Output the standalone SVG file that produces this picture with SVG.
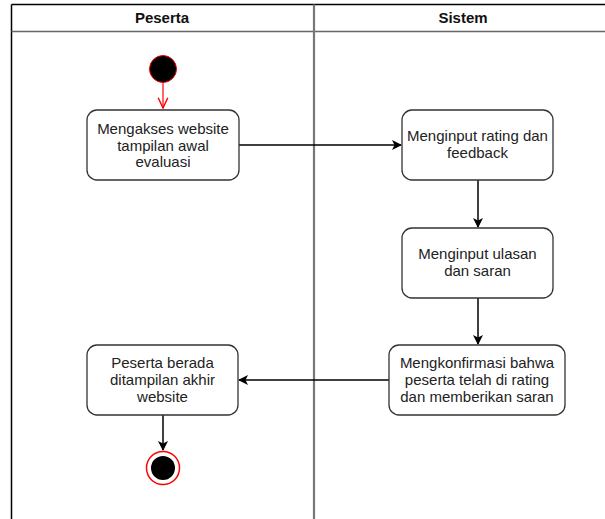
<svg xmlns="http://www.w3.org/2000/svg" width="605" height="519" viewBox="0 0 605 519">
  <defs>
    <marker id="arrow" viewBox="0 0 10 10" refX="9" refY="5" markerWidth="10" markerHeight="10" markerUnits="userSpaceOnUse" orient="auto">
      <path d="M0,0 L10,5 L0,10 L2.5,5 Z" fill="#000"/>
    </marker>
    <marker id="openRed" viewBox="0 0 10 10" refX="9.5" refY="5" markerWidth="12" markerHeight="12" markerUnits="userSpaceOnUse" orient="auto">
      <path d="M1,1 L9.5,5 L1,9" fill="none" stroke="#ff0000" stroke-width="1.2"/>
    </marker>
  </defs>
  <style>
    .lane { fill: none; stroke: #000; stroke-width: 1.3; }
    .hdr { font-family: "Liberation Sans", Arial, sans-serif; font-size: 15px; font-weight: bold; fill: #111; text-anchor: middle; }
    .box { fill: #fff; stroke: #333; stroke-width: 1.3; }
    .lbl { font-family: "Liberation Sans", Arial, sans-serif; font-size: 15px; fill: #222; text-anchor: middle; }
    .edge { fill: none; stroke: #000; stroke-width: 1.5; }
  </style>
  <rect width="605" height="519" fill="#fff"/>

  <!-- swimlane pool -->
  <g id="pool">
    <line x1="11.5" y1="4.5" x2="605" y2="4.5" stroke="#000" stroke-width="1.5"/>
    <line x1="11.5" y1="4.5" x2="11.5" y2="519" stroke="#000" stroke-width="1.5"/>
    <line x1="11.5" y1="31.5" x2="605" y2="31.5" stroke="#666" stroke-width="1.5"/>
    <line x1="314" y1="4.5" x2="314" y2="519" stroke="#777" stroke-width="2.2"/>
    <text class="hdr" x="162" y="23">Peserta</text>
    <text class="hdr" x="463" y="23">Sistem</text>
  </g>

  <!-- connectors -->
  <g id="connectors">
    <line x1="163" y1="83" x2="163" y2="108" stroke="#ff0000" stroke-width="1.2" marker-end="url(#openRed)"/>
    <line class="edge" x1="239" y1="145" x2="401" y2="145" marker-end="url(#arrow)"/>
    <line class="edge" x1="478" y1="180" x2="478" y2="227" marker-end="url(#arrow)"/>
    <line class="edge" x1="478" y1="298" x2="478" y2="344" marker-end="url(#arrow)"/>
    <line class="edge" x1="389" y1="380" x2="239" y2="380" marker-end="url(#arrow)"/>
    <line class="edge" x1="163" y1="415" x2="163" y2="450" marker-end="url(#arrow)"/>
  </g>

  <g id="start">
    <circle cx="163" cy="69" r="13.5" fill="#000" stroke="#ff0000" stroke-width="1"/>
  </g>

  <g id="akses">
    <rect class="box" x="87" y="110" width="152" height="70" rx="10"/>
    <text class="lbl" x="163" y="134">Mengakses website</text>
    <text class="lbl" x="163" y="150.5">tampilan awal</text>
    <text class="lbl" x="163" y="167">evaluasi</text>
  </g>

  <g id="rating">
    <rect class="box" x="402" y="110" width="151" height="70" rx="10"/>
    <text class="lbl" x="477.5" y="141">Menginput rating dan</text>
    <text class="lbl" x="477.5" y="158">feedback</text>
  </g>

  <g id="ulasan">
    <rect class="box" x="402" y="228" width="151" height="70" rx="10"/>
    <text class="lbl" x="477.5" y="259">Menginput ulasan</text>
    <text class="lbl" x="477.5" y="276">dan saran</text>
  </g>

  <g id="konfirmasi">
    <rect class="box" x="389" y="345" width="176" height="70" rx="10"/>
    <text class="lbl" x="477" y="368">Mengkonfirmasi bahwa</text>
    <text class="lbl" x="477" y="385">peserta telah di rating</text>
    <text class="lbl" x="477" y="401.5">dan memberikan saran</text>
  </g>

  <g id="akhir">
    <rect class="box" x="87" y="345" width="151" height="70" rx="10"/>
    <text class="lbl" x="162.5" y="368">Peserta berada</text>
    <text class="lbl" x="162.5" y="385">ditampilan akhir</text>
    <text class="lbl" x="162.5" y="401.5">website</text>
  </g>

  <g id="end">
    <circle cx="163" cy="468" r="16.5" fill="#fff" stroke="#ff0000" stroke-width="1.5"/>
    <circle cx="163" cy="468" r="12" fill="#000"/>
  </g>
</svg>
